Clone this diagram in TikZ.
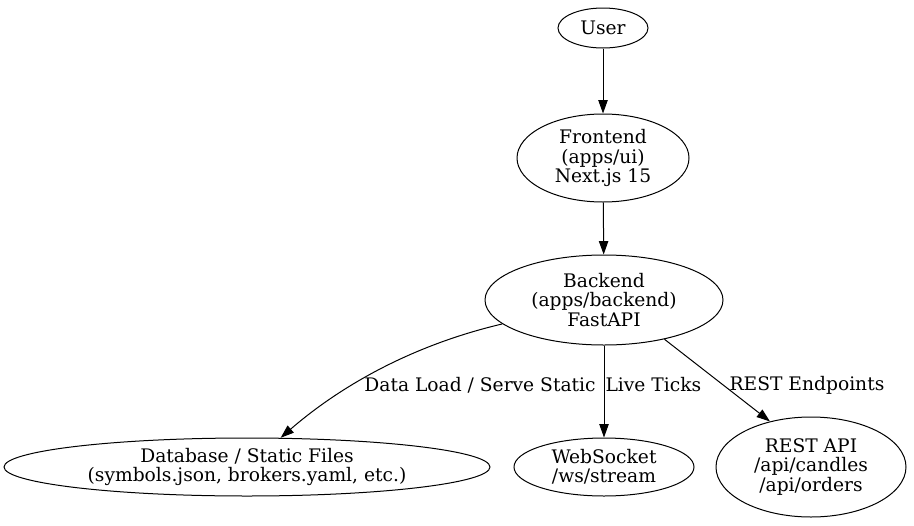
\documentclass[tikz,border=0pt]{standalone}
\usepackage{fontspec}
\setmainfont{DejaVu Serif}
\usetikzlibrary{arrows.meta,shapes.geometric}

\begin{document}
\begin{tikzpicture}[x=0.75pt,y=-0.75pt,
	font=\fontsize{14}{14.5}\selectfont,
	line width=0.75pt,
	part/.style={draw,ellipse,align=center,inner sep=0pt},
	flow/.style={-{Triangle[length=10pt,width=7pt]}},
	tag/.style={inner sep=0pt}]
					\useasboundingbox (0,0) rectangle (914,525);
					% services
					\node[part,minimum width=67.5pt,minimum height=30pt] (user) at (603,28) {User};
					\node[part,minimum width=129pt,minimum height=66pt] (frontend) at (603,158) {Frontend\\(apps/ui)\\Next.js 15};
					\node[part,minimum width=178.5pt,minimum height=67.5pt] (backend) at (604,300) {Backend\\(apps/backend)\\FastAPI};
					\node[part,minimum width=364.5pt,minimum height=43.5pt] (db) at (247,467) {Database / Static Files\\(symbols.json, brokers.yaml, etc.)};
					\node[part,minimum width=135pt,minimum height=43.5pt] (ws) at (604,467) {WebSocket\\/ws/stream};
					\node[part,minimum width=142.5pt,minimum height=75pt] (rest) at (811,467) {REST API\\/api/candles\\/api/orders};
					
					\draw[flow] (user) -- (frontend);
					\draw[flow] (frontend) -- (backend);
					\draw[flow] (backend) .. controls (400,348) and (330,395) .. (db);
					\draw[flow] (backend) -- (ws);
					\draw[flow] (backend.-33) -- (rest.132);
					
					\node[tag] (loadlbl) at (480,385) {Data Load / Serve Static};
					\node[tag,anchor=west] (tickslbl) at (605,385) {Live Ticks};
					\node[tag] (restlbl) at (807,385) {REST Endpoints};
				\end{tikzpicture}
\end{document}
